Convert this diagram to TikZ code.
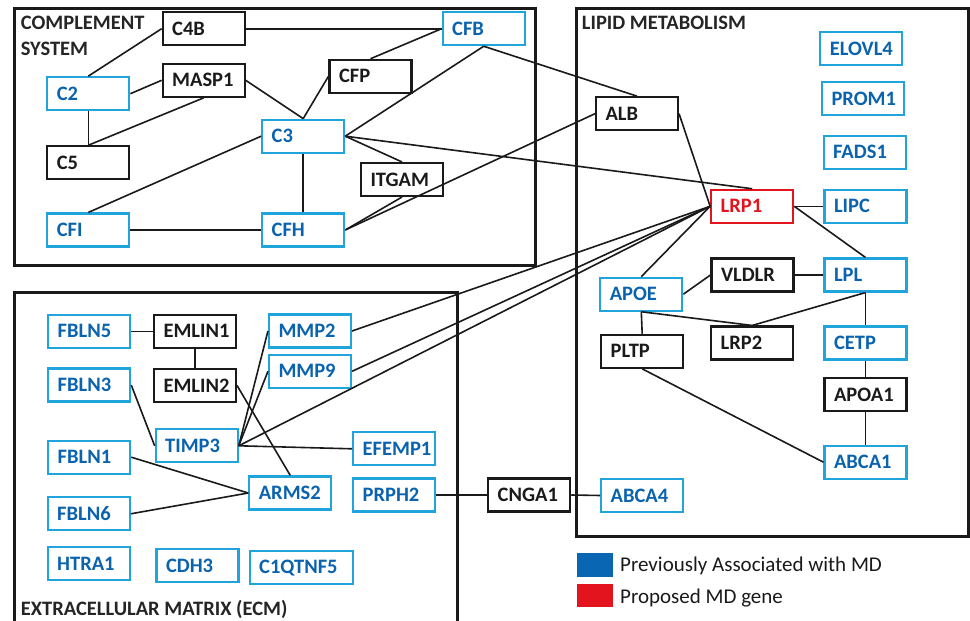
\documentclass[tikz,border=0pt]{standalone}
\usepackage{fontspec}
\setmainfont{Carlito}
\definecolor{boxblue}{HTML}{1FA5DC}
\definecolor{txtblue}{HTML}{0A63AE}
\definecolor{legblue}{HTML}{0866B2}
\definecolor{mdred}{HTML}{E4141F}
\definecolor{ink}{HTML}{1A1A1A}
\tikzset{
  gene/.style={draw, line width=2.1pt, minimum height=33pt, text width=63pt,
    inner xsep=9.5pt, inner ysep=0pt, align=left,
    font=\bfseries\fontsize{20.5}{24}\selectfont, text height=13.2pt, text depth=0pt},
  blk/.style={gene, draw=ink, text=ink},
  blu/.style={gene, draw=boxblue, text=txtblue},
  redbox/.style={gene, draw=mdred, text=mdred},
  link/.style={draw=ink, line width=1.6pt},
  frame/.style={draw=ink, line width=3pt},
  title/.style={font=\bfseries\fontsize{20.5}{26}\selectfont, text=ink!95, inner sep=0pt, align=left},
  legtext/.style={font=\fontsize{21}{26}\selectfont, text=ink, inner sep=0pt, anchor=base west}
}
\begin{document}
\begin{tikzpicture}[x=1pt,y=-1pt]
\useasboundingbox (0,0) rectangle (970,621);
\fill[white] (0,0) rectangle (970,621);

% frames
\draw[frame] (14,8.3) rectangle (535.7,265.7);
\draw[frame] (14,625) -- (14,292.7) -- (457.7,292.7) -- (457.7,625);
\draw[frame] (576.7,8.3) rectangle (968.3,536);

\node[title, anchor=north west] (tcomp) at (20.7,15.5) {COMPLEMENT\\SYSTEM};
\node[title, anchor=base west] (tlip) at (581.7,30) {LIPID METABOLISM};
\node[title, anchor=base west] (tecm) at (20.7,615) {EXTRACELLULAR MATRIX (ECM)};

% complement system
\node[blk] (C4B) at (203.7,28.7) {C4B};
\node[blu] (CFB) at (483.7,28.7) {CFB};
\node[blu] (C2) at (88.3,93.7) {C2};
\node[blk] (MASP1) at (203.7,80.3) {MASP1};
\node[blk] (CFP) at (370.5,76.3) {CFP};
\node[blu] (C3) at (303.2,136.2) {C3};
\node[blk] (C5) at (88.3,162.8) {C5};
\node[blk] (ITGAM) at (402,179.5) {ITGAM};
\node[blu] (CFI) at (88.3,230) {CFI};
\node[blu] (CFH) at (303.2,230) {CFH};

% lipid metabolism
\node[blu] (ELOVL4) at (861.3,48.8) {ELOVL4};
\node[blu] (PROM1) at (863,98.8) {PROM1};
\node[blu] (FADS1) at (864.7,152.2) {FADS1};
\node[blu] (LIPC) at (865.5,206.3) {LIPC};
\node[redbox] (LRP1) at (752.2,206.3) {LRP1};
\node[blk] (ALB) at (637,113.7) {ALB};
\node[blk] (VLDLR) at (752.5,275) {VLDLR};
\node[blu] (LPL) at (865.5,275) {LPL};
\node[blu] (APOE) at (641.3,294.2) {APOE};
\node[blk] (LRP2) at (752.2,343) {LRP2};
\node[blk] (PLTP) at (642.2,351.3) {PLTP};
\node[blu] (CETP) at (865.5,343) {CETP};
\node[blk] (APOA1) at (865.5,394.5) {APOA1};
\node[blu] (ABCA1) at (865.5,462.2) {ABCA1};
\node[blu] (ABCA4) at (642.2,495.5) {ABCA4};

% extracellular matrix
\node[blu] (FBLN5) at (89.2,331.3) {FBLN5};
\node[blk] (EMLIN1) at (195,331.3) {EMLIN1};
\node[blu] (MMP2) at (310,331) {MMP2};
\node[blu] (FBLN3) at (89.2,385) {FBLN3};
\node[blk] (EMLIN2) at (195,385.5) {EMLIN2};
\node[blu] (MMP9) at (310,371.3) {MMP9};
\node[blu] (TIMP3) at (196.7,445.8) {TIMP3};
\node[blu] (EFEMP1) at (394.2,448.8) {EFEMP1};
\node[blu] (FBLN1) at (89.2,457.2) {FBLN1};
\node[blu] (ARMS2) at (290.3,493) {ARMS2};
\node[blu] (PRPH2) at (394.2,495) {PRPH2};
\node[blk] (CNGA1) at (529.2,495) {CNGA1};
\node[blu] (FBLN6) at (88.7,513.8) {FBLN6};
\node[blu] (HTRA1) at (88.7,563.8) {HTRA1};
\node[blu] (CDH3) at (197.5,565.5) {CDH3};
\node[blu, text width=84pt] (C1QTNF5) at (301.2,567.2) {C1QTNF5};

% connectors
\draw[link] (C4B.west) -- (C2.north);
\draw[link] (C4B.east) -- (CFB.west);
\draw[link] (C2.east) -- (MASP1.west);
\draw[link] (C2.south) -- (C5.north);
\draw[link] (MASP1.south) -- (C5.north);
\draw[link] (MASP1.east) -- (C3.north);
\draw[link] (CFP.west) -- (C3.north);
\draw[link] (CFB.west) -- (CFP.north);
\draw[link] (CFB.south) -- (C3.east);
\draw[link] (CFB.south) -- (ALB.north);
\draw[link] (C3.east) -- (ITGAM.north);
\draw[link] (C3.east) -- (LRP1.north);
\draw[link] (C3.south) -- (CFH.north);
\draw[link] (C3.west) -- (CFI.north);
\draw[link] (CFI.east) -- (CFH.west);
\draw[link] (CFH.east) -- (ITGAM.south);
\draw[link] (CFH.east) -- (ALB.west);
\draw[link] (ALB.east) -- (LRP1.west);
\draw[link] (LRP1.east) -- (LIPC.west);
\draw[link] (LRP1.east) -- (LPL.north);
\draw[link] (LRP1.west) -- (APOE.north);
\draw[link] (LRP1.west) -- (MMP2.east);
\draw[link] (LRP1.west) -- (MMP9.east);
\draw[link] (LRP1.west) -- (TIMP3.east);
\draw[link] (APOE.east) -- (VLDLR.west);
\draw[link] (VLDLR.east) -- (LPL.west);
\draw[link] (APOE.south) -- (LRP2.north);
\draw[link] (LPL.south) -- (LRP2.north);
\draw[link] (APOE.south) -- (PLTP.north);
\draw[link] (LPL.south) -- (CETP.north);
\draw[link] (CETP.south) -- (APOA1.north);
\draw[link] (APOA1.south) -- (ABCA1.north);
\draw[link] (PLTP.south) -- (ABCA1.west);
\draw[link] (FBLN5.east) -- (EMLIN1.west);
\draw[link] (EMLIN1.south) -- (EMLIN2.north);
\draw[link] (FBLN3.east) -- (TIMP3.west);
\draw[link] (EMLIN2.east) -- (ARMS2.north);
\draw[link] (TIMP3.east) -- (MMP2.west);
\draw[link] (TIMP3.east) -- (MMP9.west);
\draw[link] (TIMP3.east) -- (EFEMP1.west);
\draw[link] (FBLN1.east) -- (ARMS2.west);
\draw[link] (FBLN6.east) -- (ARMS2.west);
\draw[link] (PRPH2.east) -- (CNGA1.west);
\draw[link] (CNGA1.east) -- (ABCA4.west);

% legend
\node[fill=legblue, minimum width=36pt, minimum height=24pt, inner sep=0pt] (lgb) at (594.7,565.3) {};
\node[fill=mdred, minimum width=36pt, minimum height=23.3pt, inner sep=0pt] (lgr) at (594.7,595.7) {};
\node[legtext] (lgbt) at (620,571.7) {Previously Associated with MD};
\node[legtext] (lgrt) at (620,603) {Proposed MD gene};
\end{tikzpicture}
\end{document}
